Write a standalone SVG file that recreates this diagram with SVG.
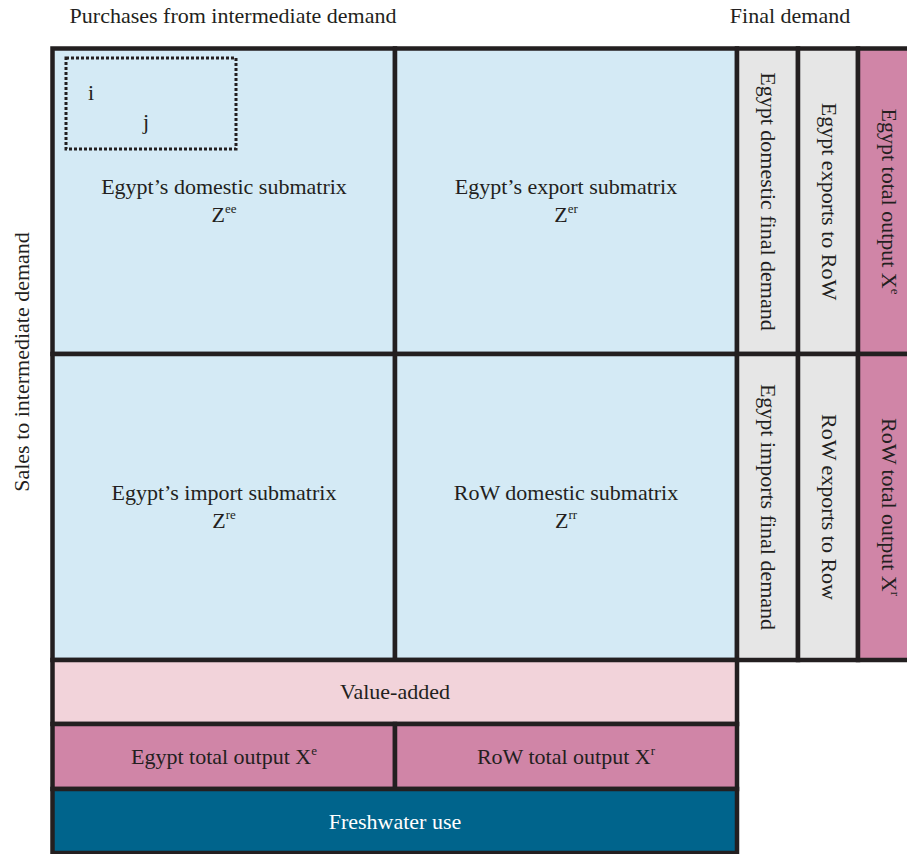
<svg xmlns="http://www.w3.org/2000/svg" width="907" height="854" viewBox="0 0 907 854">
<style>
.t{font-family:"Liberation Serif","Times New Roman",serif;font-size:22px;fill:#231F20;}
.w{fill:#FFFFFF;}
.c{stroke:#231F20;stroke-width:4.5;}
.blue{fill:#D4EAF5;}
.gray{fill:#E6E6E6;}
.lpink{fill:#F2D3DA;}
.pink{fill:#D085A7;}
.teal{fill:#00648C;}
</style>
<rect x="0" y="0" width="907" height="854" fill="#FFFFFF"/>
<g id="headers">
<text class="t" x="233" y="23" text-anchor="middle">Purchases from intermediate demand</text>
<text class="t" x="790" y="23" text-anchor="middle">Final demand</text>
<text class="t" transform="translate(29,362) rotate(-90)" text-anchor="middle">Sales to intermediate demand</text>
</g>
<g id="Zee">
<rect class="c blue" x="52.5" y="48.5" width="342.5" height="305.5"/>
<rect x="66" y="58" width="170" height="91" fill="none" stroke="#231F20" stroke-width="3" stroke-dasharray="3 2"/>
<text class="t" x="91" y="100" text-anchor="middle">i</text>
<text class="t" x="146" y="129" text-anchor="middle">j</text>
<text class="t" x="224" y="194" text-anchor="middle">Egypt’s domestic submatrix</text>
<text class="t" x="224" y="222" text-anchor="middle">Z<tspan font-size="13" dy="-9">ee</tspan></text>
</g>
<g id="Zer">
<rect class="c blue" x="395" y="48.5" width="342" height="305.5"/>
<text class="t" x="566" y="194" text-anchor="middle">Egypt’s export submatrix</text>
<text class="t" x="566" y="222" text-anchor="middle">Z<tspan font-size="13" dy="-9">er</tspan></text>
</g>
<g id="Zre">
<rect class="c blue" x="52.5" y="354" width="342.5" height="306"/>
<text class="t" x="224" y="500" text-anchor="middle">Egypt’s import submatrix</text>
<text class="t" x="224" y="528" text-anchor="middle">Z<tspan font-size="13" dy="-9">re</tspan></text>
</g>
<g id="Zrr">
<rect class="c blue" x="395" y="354" width="342" height="306"/>
<text class="t" x="566" y="500" text-anchor="middle">RoW domestic submatrix</text>
<text class="t" x="566" y="528" text-anchor="middle">Z<tspan font-size="13" dy="-9">rr</tspan></text>
</g>
<g id="egypt-domestic-fd">
<rect class="c gray" x="737" y="48.5" width="61" height="305.5"/>
<text class="t" transform="translate(761,201.5) rotate(90)" text-anchor="middle">Egypt domestic final demand</text>
</g>
<g id="egypt-exports-row">
<rect class="c gray" x="798" y="48.5" width="60" height="305.5"/>
<text class="t" transform="translate(822,201.5) rotate(90)" text-anchor="middle">Egypt exports to RoW</text>
</g>
<g id="egypt-total-output-col">
<rect class="c pink" x="858" y="48.5" width="60" height="305.5"/>
<text class="t" transform="translate(882,201.5) rotate(90)" text-anchor="middle">Egypt total output X<tspan font-size="13" dy="-9">e</tspan></text>
</g>
<g id="egypt-imports-fd">
<rect class="c gray" x="737" y="354" width="61" height="306"/>
<text class="t" transform="translate(761,507) rotate(90)" text-anchor="middle">Egypt imports final demand</text>
</g>
<g id="row-exports-row">
<rect class="c gray" x="798" y="354" width="60" height="306"/>
<text class="t" transform="translate(822,507) rotate(90)" text-anchor="middle">RoW exports to Row</text>
</g>
<g id="row-total-output-col">
<rect class="c pink" x="858" y="354" width="60" height="306"/>
<text class="t" transform="translate(882,507) rotate(90)" text-anchor="middle">RoW total output X<tspan font-size="13" dy="-9">r</tspan></text>
</g>
<g id="value-added">
<rect class="c lpink" x="52.5" y="660" width="684.5" height="64"/>
<text class="t" x="395" y="699" text-anchor="middle">Value-added</text>
</g>
<g id="egypt-total-output-row">
<rect class="c pink" x="52.5" y="724" width="342.5" height="65"/>
<text class="t" x="224" y="764" text-anchor="middle">Egypt total output X<tspan font-size="13" dy="-9">e</tspan></text>
</g>
<g id="row-total-output-row">
<rect class="c pink" x="395" y="724" width="342" height="65"/>
<text class="t" x="566" y="764" text-anchor="middle">RoW total output X<tspan font-size="13" dy="-9">r</tspan></text>
</g>
<g id="freshwater">
<rect class="c teal" x="52.5" y="789" width="684.5" height="64"/>
<text class="t w" x="395" y="829" text-anchor="middle">Freshwater use</text>
</g>
<g id="connectors"></g>
</svg>
